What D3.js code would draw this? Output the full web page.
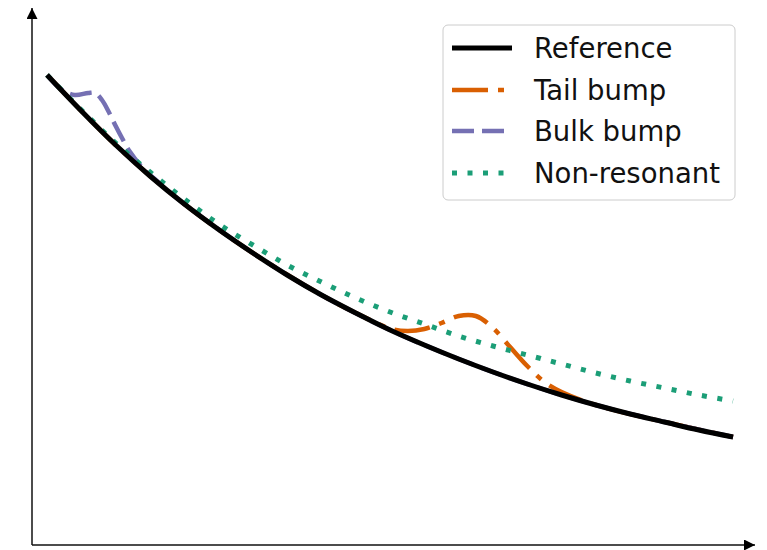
<!DOCTYPE html>
<html>
<head>
<meta charset="utf-8">
<script src="https://cdn.jsdelivr.net/npm/d3@7"></script>
<style>
  html, body { margin: 0; padding: 0; background: #fff; }
  svg { display: block; }
</style>
</head>
<body>
<svg id="chart" width="767" height="550"></svg>
<script>
// Spectrum shapes on a normalised axis (0..1), arbitrary vertical units.
const xRef = [0, 0.05, 0.10, 0.15, 0.20, 0.25, 0.30, 0.35, 0.40, 0.45, 0.50,
              0.55, 0.60, 0.65, 0.70, 0.75, 0.80, 0.85, 0.90, 0.95, 1.00];
const yRef = [4.70, 4.34, 4.00, 3.69, 3.41, 3.155, 2.92, 2.70, 2.50, 2.32, 2.15,
              2.00, 1.86, 1.73, 1.61, 1.50, 1.40, 1.31, 1.23, 1.15, 1.08];

const xNonRes = xRef;
const yNonRes = [4.70, 4.35, 4.02, 3.73, 3.46, 3.21, 3.00, 2.80, 2.63, 2.47, 2.33,
                 2.21, 2.09, 1.99, 1.90, 1.81, 1.72, 1.64, 1.57, 1.50, 1.44];

const xTail = [0, 0.10, 0.20, 0.30, 0.40, 0.45, 0.50, 0.525, 0.55, 0.575, 0.60,
               0.625, 0.65, 0.675, 0.70, 0.725, 0.75, 0.80, 0.90, 1.00];
const yTail = [4.70, 4.00, 3.41, 2.92, 2.50, 2.32, 2.165, 2.14, 2.16, 2.22, 2.29,
               2.29, 2.17, 1.98, 1.79, 1.63, 1.53, 1.40, 1.23, 1.08];

const xBulk = [0, 0.02, 0.04, 0.06, 0.07, 0.08, 0.09, 0.10, 0.11, 0.12, 0.14,
               0.16, 0.20, 0.30, 0.40, 0.50, 0.60, 0.70, 0.80, 0.90, 1.00];
const yBulk = [4.70, 4.56, 4.50, 4.52, 4.52, 4.45, 4.33, 4.19, 4.06, 3.94, 3.765,
               3.64, 3.41, 2.92, 2.50, 2.15, 1.86, 1.61, 1.40, 1.23, 1.08];

const seriesNames = ["Reference", "Tail bump", "Bulk bump", "Non-resonant"];
const seriesColors = ["#000000", "#d95f02", "#7570b3", "#1b9e77"];
const seriesDash = [null, "36,10,6,10", "22,8", "5,10.5"];
const lineWidths = [5, 4.5, 4.5, 5];

const svg = d3.select("#chart");

const x = d3.scaleLinear().domain([-0.022, 1.032]).range([32, 755]);
const y = d3.scaleLinear().domain([0, 5.37]).range([545, 8]);

// Arrowheads for the two spines
const defs = svg.append("defs");
defs.append("marker")
  .attr("id", "arrow")
  .attr("viewBox", "0 0 10 10")
  .attr("refX", 10).attr("refY", 5)
  .attr("markerUnits", "userSpaceOnUse")
  .attr("markerWidth", 11).attr("markerHeight", 11)
  .attr("orient", "auto")
  .append("path")
  .attr("d", "M0,0 L10,5 L0,10 Z")
  .attr("fill", "#000");

// Axes without ticks; only the spines are shown
const gx = svg.append("g")
  .attr("transform", `translate(0,${y(0)})`)
  .call(d3.axisBottom(x).tickValues([]).tickSizeOuter(0));
const gy = svg.append("g")
  .attr("transform", `translate(${x.range()[0]},0)`)
  .call(d3.axisLeft(y).tickValues([]).tickSizeOuter(0));

[gx, gy].forEach(g => g.select(".domain")
  .attr("stroke", "#111")
  .attr("stroke-width", 1.5)
  .attr("marker-end", "url(#arrow)"));
gy.select(".domain").attr("d", `M0,${y.range()[0]}V${y.range()[1]}`);
gx.select(".domain").attr("d", `M${x.range()[0]},0H${x.range()[1]}`);

const line = d3.line()
  .x(d => x(d[0]))
  .y(d => y(d[1]))
  .curve(d3.curveCatmullRom.alpha(0.5));

// Variants first, reference drawn on top
const series = [
  { xs: xTail, ys: yTail, idx: 1 },
  { xs: xBulk, ys: yBulk, idx: 2 },
  { xs: xNonRes, ys: yNonRes, idx: 3 },
  { xs: xRef, ys: yRef, idx: 0 }
];

series.forEach(s => {
  svg.append("path")
    .datum(s.xs.map((v, i) => [v, s.ys[i]]))
    .attr("fill", "none")
    .attr("stroke", seriesColors[s.idx])
    .attr("stroke-width", lineWidths[s.idx])
    .attr("stroke-dasharray", seriesDash[s.idx])
    .attr("stroke-linecap", "butt")
    .attr("stroke-linejoin", "round")
    .attr("d", line);
});

// Legend
const legend = svg.append("g").attr("transform", "translate(443,25)");
legend.append("rect")
  .attr("width", 292).attr("height", 175)
  .attr("rx", 5).attr("ry", 5)
  .attr("fill", "#fff").attr("fill-opacity", 0.8)
  .attr("stroke", "#cccccc").attr("stroke-width", 1);

const rowY = [23, 65, 106, 148];
seriesNames.forEach((name, i) => {
  const row = legend.append("g").attr("transform", `translate(0,${rowY[i]})`);
  row.append("line")
    .attr("x1", 9).attr("x2", 69)
    .attr("y1", 0).attr("y2", 0)
    .attr("stroke", seriesColors[i])
    .attr("stroke-width", lineWidths[i])
    .attr("stroke-dasharray", seriesDash[i]);
  row.append("text")
    .attr("x", 91).attr("y", 0)
    .attr("dy", "0.36em")
    .attr("font-family", "DejaVu Sans, sans-serif")
    .attr("font-size", 27.5)
    .attr("fill", "#111")
    .text(name);
});
</script>
</body>
</html>
